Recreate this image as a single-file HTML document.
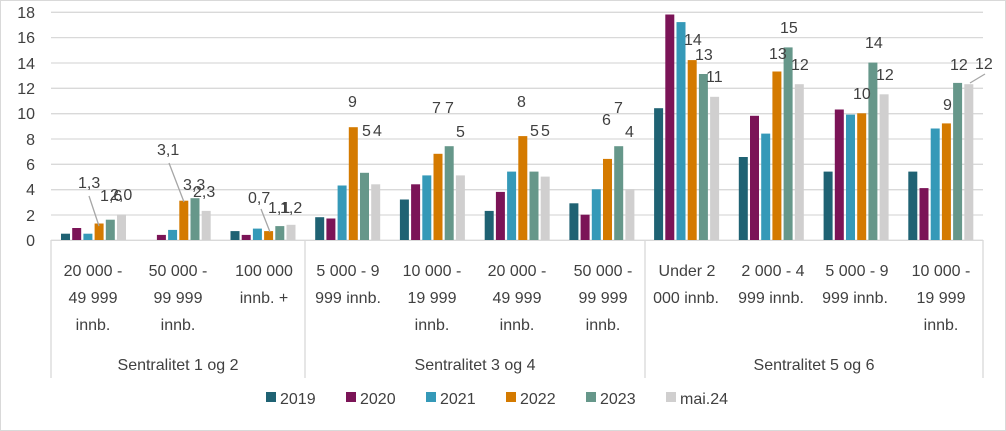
<!DOCTYPE html>
<html><head><meta charset="utf-8"><style>
html,body{margin:0;padding:0;background:#fff}
svg{display:block}
text{font-family:"Liberation Sans",sans-serif;fill:#404040}
</style></head><body>
<svg width="1006" height="431" viewBox="0 0 1006 431" xmlns="http://www.w3.org/2000/svg">
<rect x="0.5" y="0.5" width="1005" height="430" fill="#fff" stroke="#d9d9d9"/>
<g stroke="#d9d9d9" stroke-width="1.3">
<line x1="51" x2="983" y1="12.3" y2="12.3"/><line x1="51" x2="983" y1="37.6" y2="37.6"/>
<line x1="51" x2="983" y1="63" y2="63"/><line x1="51" x2="983" y1="88.3" y2="88.3"/>
<line x1="51" x2="983" y1="113.7" y2="113.7"/><line x1="51" x2="983" y1="139" y2="139"/>
<line x1="51" x2="983" y1="164.3" y2="164.3"/><line x1="51" x2="983" y1="189.7" y2="189.7"/>
<line x1="51" x2="983" y1="215" y2="215"/><line x1="51" x2="983" y1="240.3" y2="240.3"/>
<line x1="51" x2="51" y1="240" y2="378"/><line x1="305" x2="305" y1="240" y2="378"/>
<line x1="645" x2="645" y1="240" y2="378"/><line x1="983" x2="983" y1="240" y2="378"/>
</g>
<g font-size="16" text-anchor="end">
<text x="35" y="18">18</text><text x="35" y="43">16</text><text x="35" y="69">14</text>
<text x="35" y="94">12</text><text x="35" y="119">10</text><text x="35" y="145">8</text>
<text x="35" y="170">6</text><text x="35" y="195">4</text><text x="35" y="221">2</text>
<text x="35" y="246">0</text>
</g>
<g transform="translate(0,240) scale(1,-1)">
<g fill="#1f6273">
<rect x="61" y="0" width="9" height="6.3"/>
<rect x="230.5" y="0" width="9" height="8.9"/>
<rect x="315.2" y="0" width="9" height="22.8"/>
<rect x="399.9" y="0" width="9" height="40.5"/>
<rect x="484.7" y="0" width="9" height="29.1"/>
<rect x="569.4" y="0" width="9" height="36.7"/>
<rect x="654.1" y="0" width="9" height="131.8"/>
<rect x="738.8" y="0" width="9" height="83"/>
<rect x="823.6" y="0" width="9" height="68.4"/>
<rect x="908.3" y="0" width="9" height="68.4"/>
</g>
<g fill="#7b1457">
<rect x="72.2" y="0" width="9" height="12"/>
<rect x="156.9" y="0" width="9" height="5.1"/>
<rect x="241.7" y="0" width="9" height="5.1"/>
<rect x="326.4" y="0" width="9" height="21.5"/>
<rect x="411.1" y="0" width="9" height="55.7"/>
<rect x="495.9" y="0" width="9" height="48.1"/>
<rect x="580.6" y="0" width="9" height="25.3"/>
<rect x="665.3" y="0" width="9" height="225.5"/>
<rect x="750" y="0" width="9" height="124.2"/>
<rect x="834.8" y="0" width="9" height="130.5"/>
<rect x="919.5" y="0" width="9" height="51.9"/>
</g>
<g fill="#3599b8">
<rect x="83.4" y="0" width="9" height="6.3"/>
<rect x="168.1" y="0" width="9" height="10.1"/>
<rect x="252.9" y="0" width="9" height="11.4"/>
<rect x="337.6" y="0" width="9" height="54.5"/>
<rect x="422.3" y="0" width="9" height="64.6"/>
<rect x="507.1" y="0" width="9" height="68.4"/>
<rect x="591.8" y="0" width="9" height="50.7"/>
<rect x="676.5" y="0" width="9" height="217.9"/>
<rect x="761.2" y="0" width="9" height="106.4"/>
<rect x="846" y="0" width="9" height="125.4"/>
<rect x="930.7" y="0" width="9" height="111.5"/>
</g>
<g fill="#d47a00">
<rect x="94.6" y="0" width="9" height="16.5"/>
<rect x="179.3" y="0" width="9" height="39.3"/>
<rect x="264.1" y="0" width="9" height="8.9"/>
<rect x="348.8" y="0" width="9" height="112.8"/>
<rect x="433.5" y="0" width="9" height="86.2"/>
<rect x="518.3" y="0" width="9" height="103.9"/>
<rect x="603" y="0" width="9" height="81.1"/>
<rect x="687.7" y="0" width="9" height="179.9"/>
<rect x="772.4" y="0" width="9" height="168.5"/>
<rect x="857.2" y="0" width="9" height="126.7"/>
<rect x="941.9" y="0" width="9" height="116.6"/>
</g>
<g fill="#66978a">
<rect x="105.8" y="0" width="9" height="20.3"/>
<rect x="190.5" y="0" width="9" height="41.8"/>
<rect x="275.3" y="0" width="9" height="13.9"/>
<rect x="360" y="0" width="9" height="67.2"/>
<rect x="444.7" y="0" width="9" height="93.8"/>
<rect x="529.5" y="0" width="9" height="68.4"/>
<rect x="614.2" y="0" width="9" height="93.8"/>
<rect x="698.9" y="0" width="9" height="166"/>
<rect x="783.6" y="0" width="9" height="192.6"/>
<rect x="868.4" y="0" width="9" height="177.4"/>
<rect x="953.1" y="0" width="9" height="157.1"/>
</g>
<g fill="#d0cfcf">
<rect x="117" y="0" width="9" height="25.3"/>
<rect x="201.7" y="0" width="9" height="29.1"/>
<rect x="286.5" y="0" width="9" height="15.2"/>
<rect x="371.2" y="0" width="9" height="55.7"/>
<rect x="455.9" y="0" width="9" height="64.6"/>
<rect x="540.7" y="0" width="9" height="63.4"/>
<rect x="625.4" y="0" width="9" height="50.7"/>
<rect x="710.1" y="0" width="9" height="143.2"/>
<rect x="794.8" y="0" width="9" height="155.8"/>
<rect x="879.6" y="0" width="9" height="145.7"/>
<rect x="964.3" y="0" width="9" height="155.8"/>
</g>
</g>
<g stroke="#a6a6a6" stroke-width="1.3">
<line x1="89" y1="196" x2="99" y2="226"/>
<line x1="169" y1="163" x2="184" y2="202"/>
<line x1="261" y1="209" x2="270" y2="232"/>
<line x1="970" y1="83" x2="985" y2="74"/>
</g>
<g font-size="16">
<text x="78" y="188">1,3</text><text x="100" y="201">1,6</text><text x="110" y="200">2,0</text>
<text x="157" y="155">3,1</text><text x="183" y="190">3,3</text><text x="193" y="197">2,3</text>
<text x="248" y="203">0,7</text><text x="268" y="213">1,1</text><text x="280" y="213">1,2</text>
<text x="348" y="107">9</text><text x="362" y="136">5</text><text x="373" y="136">4</text>
<text x="432" y="113">7</text><text x="445" y="113">7</text><text x="456" y="137">5</text>
<text x="517" y="107">8</text><text x="530" y="136">5</text><text x="541" y="136">5</text>
<text x="602" y="125">6</text><text x="614" y="113">7</text><text x="625" y="137">4</text>
<text x="684" y="45">14</text><text x="695" y="60">13</text><text x="706" y="82">11</text>
<text x="769" y="59">13</text><text x="780" y="33">15</text><text x="791" y="70">12</text>
<text x="853" y="99">10</text><text x="865" y="48">14</text><text x="876" y="80">12</text>
<text x="943" y="110">9</text><text x="950" y="70">12</text><text x="975" y="69">12</text>
</g>
<g font-size="16" text-anchor="middle">
<text x="93" y="276">20 000 -</text><text x="93" y="303">49 999</text><text x="93" y="330">innb.</text>
<text x="178" y="276">50 000 -</text><text x="178" y="303">99 999</text><text x="178" y="330">innb.</text>
<text x="264" y="276">100 000</text><text x="264" y="303">innb. +</text>
<text x="348" y="276">5 000 - 9</text><text x="348" y="303">999 innb.</text>
<text x="432" y="276">10 000 -</text><text x="432" y="303">19 999</text><text x="432" y="330">innb.</text>
<text x="517" y="276">20 000 -</text><text x="517" y="303">49 999</text><text x="517" y="330">innb.</text>
<text x="603" y="276">50 000 -</text><text x="603" y="303">99 999</text><text x="603" y="330">innb.</text>
<text x="687" y="276">Under 2</text><text x="686" y="303">000 innb.</text>
<text x="773" y="276">2 000 - 4</text><text x="771" y="303">999 innb.</text>
<text x="857" y="276">5 000 - 9</text><text x="855" y="303">999 innb.</text>
<text x="941" y="276">10 000 -</text><text x="941" y="303">19 999</text><text x="941" y="330">innb.</text>
<text x="178" y="370">Sentralitet 1 og 2</text>
<text x="475" y="370">Sentralitet 3 og 4</text>
<text x="814" y="370">Sentralitet 5 og 6</text>
</g>
<g font-size="16">
<rect x="266" y="392" width="10" height="10" fill="#1f6273"/><text x="280" y="404">2019</text>
<rect x="346" y="392" width="10" height="10" fill="#7b1457"/><text x="360" y="404">2020</text>
<rect x="426" y="392" width="10" height="10" fill="#3599b8"/><text x="440" y="404">2021</text>
<rect x="506" y="392" width="10" height="10" fill="#d47a00"/><text x="520" y="404">2022</text>
<rect x="586" y="392" width="10" height="10" fill="#66978a"/><text x="600" y="404">2023</text>
<rect x="666" y="392" width="10" height="10" fill="#d0cfcf"/><text x="680" y="404">mai.24</text>
</g>
</svg>
</body></html>
